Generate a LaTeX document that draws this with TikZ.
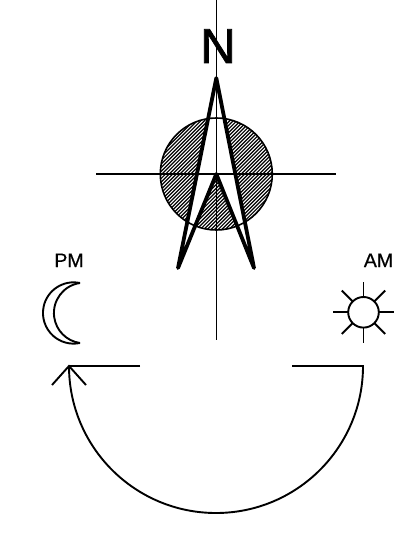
\documentclass[tikz,border=0pt]{standalone}
\usepackage{fontspec}
\setmainfont{Liberation Sans}
\newfontfamily\heavyN[FakeBold=1.6]{Liberation Sans}
\newfontfamily\heavyL[FakeBold=0.6]{Liberation Sans}
\usetikzlibrary{calc}
\begin{document}
\begin{tikzpicture}[x=1pt,y=-1pt,
  thin line/.style={line width=1.6pt,line cap=butt},
  med line/.style={line width=1.9pt,line cap=butt,line join=miter},
  hatch line/.style={line width=1.2pt},
  arrow body/.style={line width=3.8pt,line join=round,line cap=round},
  lbl/.style={inner sep=0pt,anchor=base}]
\useasboundingbox (0,0) rectangle (407,540);
% hatched disc
\begin{scope}
  \clip (216.3,174) circle (56);
  \foreach \k in {0,...,60}{
    \draw[hatch line] (60+\k*3.6,240) -- (60+\k*3.6+120,120);
  }
\end{scope}
\fill[white] (216.3,78) -- (178,268) -- (216.3,174) -- (254,268) -- cycle;
\draw[thin line] (216.3,174) circle (56);
\draw[thin line] (96,174) -- (336,174);
\draw[thin line] (216.5,0) -- (216.5,340);
\draw[arrow body] (216.3,78) -- (178,268) -- (216.3,174) -- (254,268) -- cycle;
\node[lbl,font=\fontsize{49}{49}\heavyN] (north) at (218,63) {N};
\node[lbl,font=\fontsize{19.5}{20}\heavyL] (pm) at (69,267) {PM};
\node[lbl,font=\fontsize{19.5}{20}\heavyL] (am) at (378.5,267) {AM};
% moon
\draw[med line] (80,283) arc[start angle=-78,end angle=-282,radius=30.66];
\draw[med line] (80,283) arc[start angle=-98,end angle=-262,radius=30.3];
% sun
\draw[med line] (363.5,312.3) circle (15.3);
\foreach \a in {0,45,...,315}
  \draw[med line] ($(363.5,312.3)+(\a:15.3)$) -- ($(363.5,312.3)+(\a:30.7)$);
% sweep
\draw[med line] (292,366) -- (363,366) arc[start angle=0,end angle=180,radius=147] ;
\draw[med line] (140,366) -- (69,366);
\draw[med line] (52,385) -- (69,366) -- (86,385);
\end{tikzpicture}
\end{document}
